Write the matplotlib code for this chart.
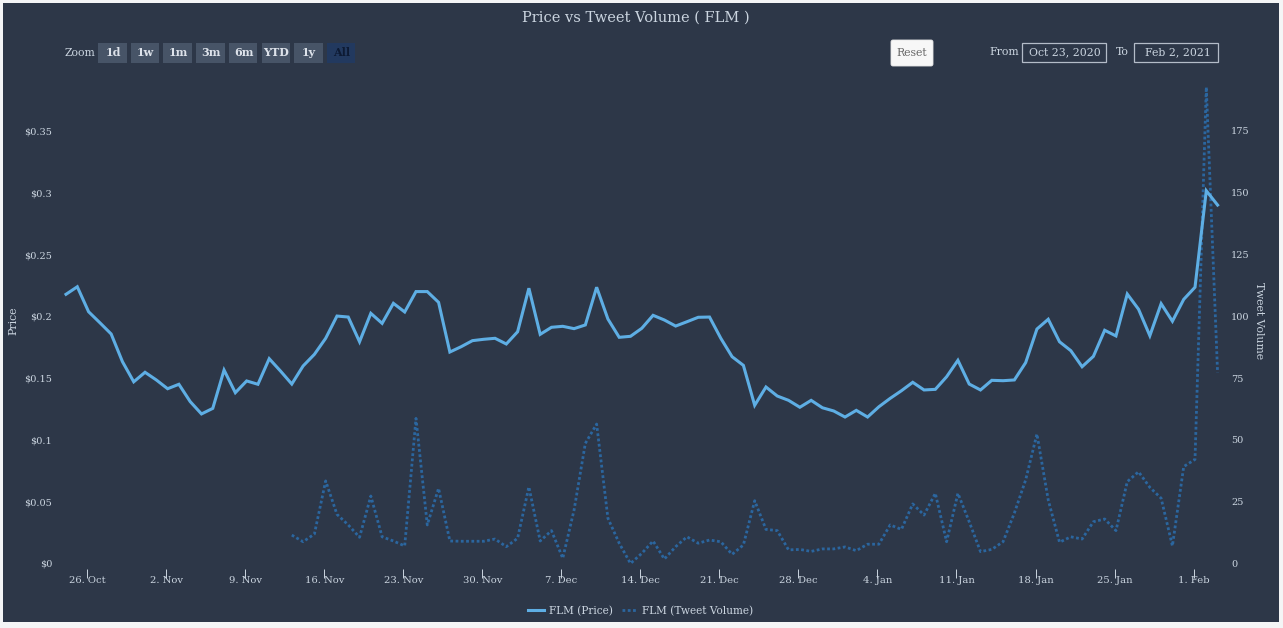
import pandas as pd
import matplotlib
matplotlib.use("Agg")
import matplotlib.pyplot as plt
from matplotlib.patches import Rectangle, FancyBboxPatch

# daily price, 24 Oct 2020 -> 3 Feb 2021
price = [
    0.2178, 0.2239, 0.2037, 0.1948, 0.1857, 0.1633, 0.147, 0.1547, 0.1485, 0.1414,
    0.145, 0.131, 0.121, 0.1255, 0.1565, 0.1382, 0.1477, 0.145, 0.1657, 0.1557,
    0.1452, 0.1598, 0.1692, 0.1822, 0.2002, 0.1994, 0.1794, 0.2024, 0.1943, 0.2105,
    0.2035, 0.22, 0.22, 0.2113, 0.1711, 0.1754, 0.1803, 0.1814, 0.1822, 0.1776,
    0.1875, 0.2227, 0.1854, 0.1911, 0.1919, 0.19, 0.193, 0.2235, 0.1978, 0.183,
    0.1838, 0.1903, 0.2008, 0.197, 0.1921, 0.1956, 0.1992, 0.1994, 0.1822, 0.1673,
    0.1603, 0.128, 0.1428, 0.1355, 0.132, 0.1264, 0.132, 0.126, 0.1234, 0.1185,
    0.1239, 0.1185, 0.1268, 0.1336, 0.1398, 0.1466, 0.1404, 0.1409, 0.1511, 0.1644,
    0.1452, 0.1404, 0.1482, 0.1479, 0.1485, 0.1625, 0.1897, 0.1976, 0.1794, 0.1722,
    0.1592, 0.1676, 0.1887, 0.1841, 0.218, 0.2057, 0.1843, 0.2102, 0.196, 0.2137,
    0.2235, 0.3016, 0.29,
]

# tweet volume only starts on 13 Nov
tweets = [
    11.5, 8.8, 11.9, 33.4, 19.9, 15.6, 10.6, 27.3, 10.8, 9.1,
    7.1, 58.7, 15.6, 30.4, 9.1, 9.0, 9.0, 9.0, 9.9, 6.8,
    10.2, 31.0, 9.1, 13.3, 2.1, 21.6, 48.6, 56.4, 18.3, 8.2,
    0.0, 4.1, 9.1, 1.8, 6.8, 10.8, 8.2, 9.5, 8.8, 3.7,
    7.5, 25.4, 13.8, 13.3, 5.5, 5.7, 4.9, 5.9, 5.9, 6.7,
    5.2, 7.8, 7.8, 15.6, 13.8, 24.1, 19.6, 28.4, 8.8, 28.4,
    16.9, 4.8, 5.7, 8.8, 20.4, 33.8, 52.4, 25.7, 8.6, 10.8,
    9.9, 16.9, 18.0, 13.3, 33.1, 37.1, 30.8, 26.4, 7.1, 39.2,
    42.1, 192.7, 77.2,
]

price_ticks = [0, 0.05, 0.1, 0.15, 0.2, 0.25, 0.3, 0.35]
price_labels = ["$0", "$0.05", "$0.1", "$0.15", "$0.2", "$0.25", "$0.3", "$0.35"]
tweet_ticks = [0, 25, 50, 75, 100, 125, 150, 175]
date_ticks = ["2020-10-26", "2020-11-02", "2020-11-09", "2020-11-16", "2020-11-23",
              "2020-11-30", "2020-12-07", "2020-12-14", "2020-12-21", "2020-12-28",
              "2021-01-04", "2021-01-11", "2021-01-18", "2021-01-25", "2021-02-01"]
date_labels = ["26. Oct", "2. Nov", "9. Nov", "16. Nov", "23. Nov", "30. Nov", "7. Dec",
               "14. Dec", "21. Dec", "28. Dec", "4. Jan", "11. Jan", "18. Jan", "25. Jan", "1. Feb"]
zoom_buttons = ["1d", "1w", "1m", "3m", "6m", "YTD", "1y", "All"]

BG = "#2d3748"
TXT = "#cbd5e0"
W, H = 1283, 628

plt.rcParams["font.family"] = "DejaVu Serif"
fig = plt.figure(figsize=(W / 100, H / 100), dpi=100, facecolor="#f4f5f6")

# page chrome in pixel coordinates
ui = fig.add_axes([0, 0, 1, 1])
ui.set_xlim(0, W)
ui.set_ylim(H, 0)
ui.axis("off")
ui.add_patch(Rectangle((3, 3), 1276, 619, fc=BG, ec="none"))
ui.text(636, 18, "Price vs Tweet Volume ( FLM )", color=TXT, fontsize=10.5, ha="center", va="center")
ui.text(80, 53, "Zoom", color=TXT, fontsize=7.8, ha="center", va="center")
for i, b in enumerate(zoom_buttons):
    x0 = 98 + i * 32.7
    active = b == "All"
    ui.add_patch(Rectangle((x0, 43), 28.5, 19.5, fc="#22395f" if active else "#475467", ec="none"))
    ui.text(x0 + 15, 52, b, color="#0d1a33" if active else "#dde2ea", fontsize=8,
            fontweight="bold", ha="center", va="center")
ui.add_patch(FancyBboxPatch((891, 40), 42, 26, boxstyle="round,pad=0,rounding_size=2", fc="#f7f7f7", ec="#e6e6e6", lw=0.6))
ui.text(912, 53, "Reset", color="#666666", fontsize=7.8, ha="center", va="center")
ui.text(1004, 52, "From", color=TXT, fontsize=7.8, ha="center", va="center")
ui.add_patch(Rectangle((1022, 43), 84, 19, fc="none", ec="#b4bcc8", lw=0.9))
ui.text(1064.5, 52, "Oct 23, 2020", color=TXT, fontsize=7.8, ha="center", va="center")
ui.text(1122, 52, "To", color=TXT, fontsize=7.8, ha="center", va="center")
ui.add_patch(Rectangle((1134, 43), 84, 19, fc="none", ec="#b4bcc8", lw=0.9))
ui.text(1178, 52, "Feb 2, 2021", color=TXT, fontsize=7.8, ha="center", va="center")

# chart axes: 11.29 px per day, price 0.05 == 61.8 px == 25 tweets
left, right, top, bottom = 60, 1224, 80, 563.5
ax = fig.add_axes([left / W, 1 - bottom / H, (right - left) / W, (bottom - top) / H])
tw = ax.twinx()
ax.set_zorder(tw.get_zorder() + 1)
ax.patch.set_visible(False)

dates = pd.date_range("2020-10-24 03:00", periods=len(price), freq="D")
price_line, = ax.plot(dates, price, color="#5eaee4", lw=2.2, solid_joinstyle="miter", label="FLM (Price)")
tweet_line, = tw.plot(dates[-len(tweets):], tweets, color="#2b669f", lw=2.0,
                      linestyle=(0, (1, 0.9)), label="FLM (Tweet Volume)")

ax.set_xlim(dates[0] - pd.Timedelta(days=6 / 11.29), dates[0] + pd.Timedelta(days=(right - 66) / 11.29))
ax.set_ylim(0, (bottom - top) / 61.8 * 0.05)
tw.set_ylim(0, (bottom - top) / 61.8 * 25)

for s in ["top", "left", "right", "bottom"]:
    ax.spines[s].set_visible(False)
    tw.spines[s].set_visible(False)
ax.spines["bottom"].set_position(("outward", 4))

ax.set_xticks(pd.to_datetime(date_ticks))
ax.set_xticklabels(date_labels)
ax.tick_params(axis="x", colors=TXT, labelsize=7.2, length=6.4, width=0.7, pad=-1.5)
ax.set_yticks(price_ticks)
ax.set_yticklabels(price_labels)
ax.tick_params(axis="y", colors=TXT, labelsize=7.0, length=0, pad=5.5)
tw.set_yticks(tweet_ticks)
tw.tick_params(axis="y", colors=TXT, labelsize=7.0, length=0, pad=5)

ui.text(13, 321, "Price", color=TXT, fontsize=7.8, rotation=90, ha="center", va="center")
ui.text(1259, 321, "Tweet Volume", color=TXT, fontsize=7.8, rotation=270, ha="center", va="center")

fig.legend(handles=[price_line, tweet_line], loc="center", bbox_to_anchor=(641 / W, 1 - 611 / H),
           ncol=2, frameon=False, fontsize=7.6, labelcolor=TXT, handlelength=1.45,
           handletextpad=0.5, columnspacing=0.85, borderpad=0)

fig.savefig("out.png", dpi=100, facecolor=fig.get_facecolor())
